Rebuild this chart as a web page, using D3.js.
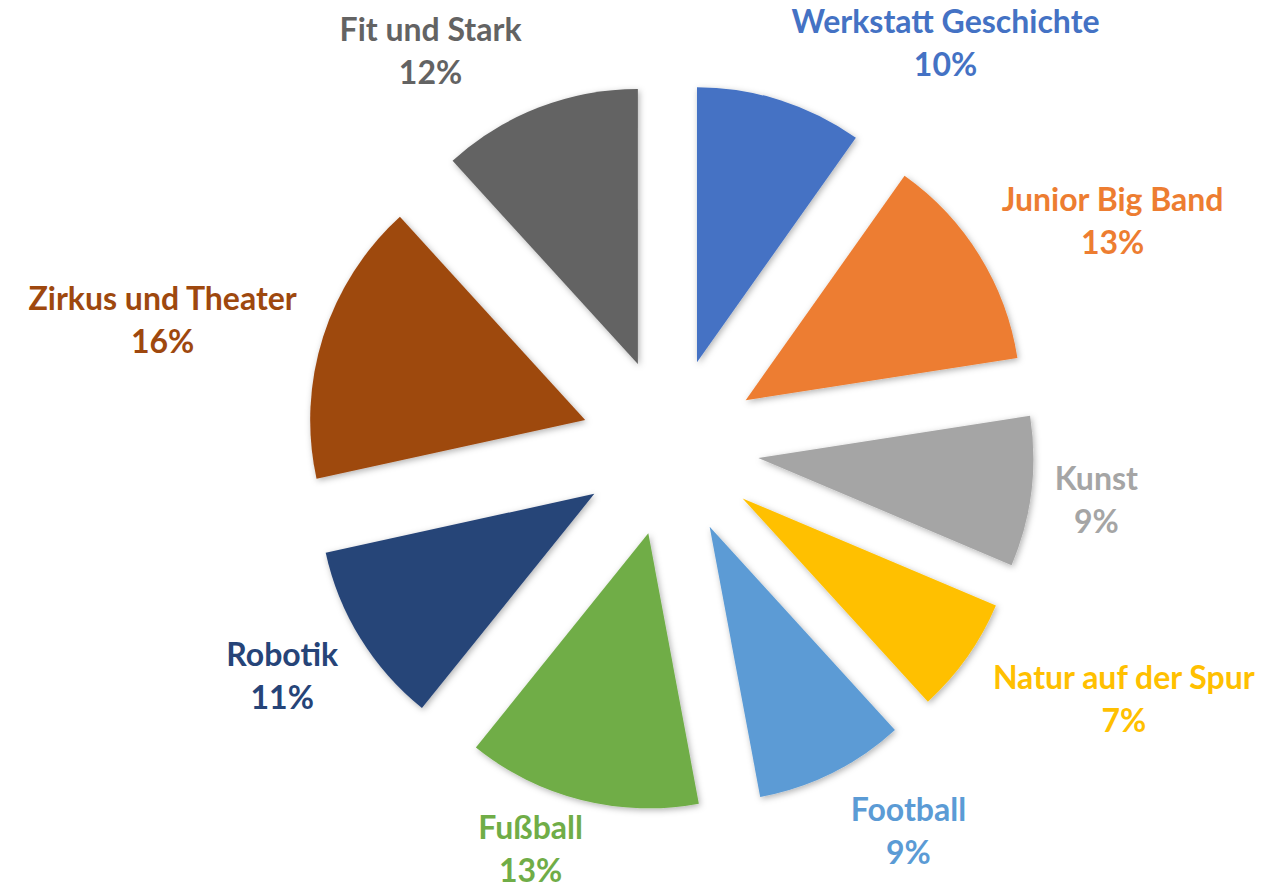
<!DOCTYPE html>
<html>
<head>
<meta charset="utf-8">
<script src="https://cdn.jsdelivr.net/npm/d3@7"></script>
<style>
  html, body { margin: 0; padding: 0; background: #ffffff; }
  svg { display: block; }
</style>
</head>
<body>
<div id="chart"></div>
<script>
// ---- Data ----
const categories = ["Werkstatt Geschichte", "Junior Big Band", "Kunst", "Natur auf der Spur",
                    "Football", "Fußball", "Robotik", "Zirkus und Theater", "Fit und Stark"];
// slice sizes
const values = [10, 13, 9, 7, 9, 14, 11, 17, 12];
// percentage labels exactly as printed on the chart
const percentLabels = ["10%", "13%", "9%", "7%", "9%", "13%", "11%", "16%", "12%"];
const colors = ["#4472C4", "#ED7D31", "#A5A5A5", "#FFC000", "#5B9BD5",
                "#70AD47", "#264478", "#9E480E", "#636363"];

// ---- Layout ----
const width = 1271, height = 888;
const cx = 670, cy = 447;
const radius = 275;
const explode = 89;
const labelDist = 392;
const lineGap = 43;
// manual label nudges (Excel's label placement)
const labelNudge = [[110, 12], [15, 4], [-4, 0], [27, 0], [38, -6], [-31, -21], [-7, 0], [-6, 5], [-65, 11]];

const svg = d3.select("#chart").append("svg")
  .attr("width", width).attr("height", height);

const defs = svg.append("defs");
const f = defs.append("filter").attr("id", "shadow")
  .attr("x", "-20%").attr("y", "-20%").attr("width", "140%").attr("height", "140%");
f.append("feDropShadow").attr("dx", 1.5).attr("dy", 2).attr("stdDeviation", 3)
  .attr("flood-color", "#000").attr("flood-opacity", 0.3);

const pie = d3.pie().sort(null).value(d => d);
const arcs = pie(values);
const arc = d3.arc().innerRadius(0).outerRadius(radius);

const g = svg.append("g").attr("transform", `translate(${cx},${cy})`);

g.selectAll("path.slice").data(arcs).enter().append("path")
  .attr("class", "slice")
  .attr("d", arc)
  .attr("fill", (d, i) => colors[i])
  .attr("filter", "url(#shadow)")
  .attr("transform", d => {
    const a = (d.startAngle + d.endAngle) / 2;
    return `translate(${explode * Math.sin(a)},${-explode * Math.cos(a)})`;
  });

const fontFamily = "Lato, 'Open Sans', sans-serif";
const fontSize = 32;

const labels = g.selectAll("g.label").data(arcs).enter().append("g").attr("class", "label");

labels.each(function(d, i) {
  const lg = d3.select(this);
  const t1 = lg.append("text")
    .attr("text-anchor", "middle")
    .attr("font-family", fontFamily)
    .attr("font-weight", "bold")
    .attr("font-size", fontSize)
    .attr("fill", colors[i])
    .attr("y", -lineGap / 2)
    .attr("dy", "0.35em")
    .text(categories[i]);
  const t2 = lg.append("text")
    .attr("text-anchor", "middle")
    .attr("font-family", fontFamily)
    .attr("font-weight", "bold")
    .attr("font-size", fontSize)
    .attr("fill", colors[i])
    .attr("y", lineGap / 2)
    .attr("dy", "0.35em")
    .text(percentLabels[i]);
  const w = Math.max(t1.node().getComputedTextLength(), t2.node().getComputedTextLength());
  const h = 88;
  const a = (d.startAngle + d.endAngle) / 2;
  const x = (labelDist + w / 2) * Math.sin(a) + labelNudge[i][0];
  const y = -(labelDist + h / 2) * Math.cos(a) + labelNudge[i][1];
  lg.attr("transform", `translate(${x},${y})`);
});
</script>
</body>
</html>
